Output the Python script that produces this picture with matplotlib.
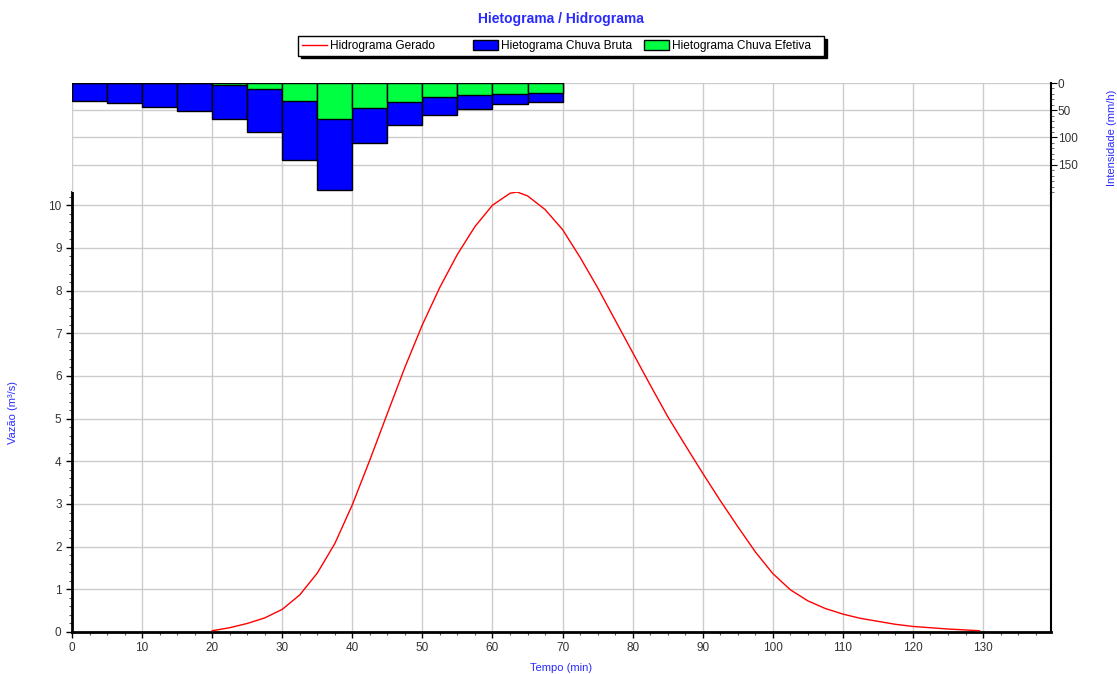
import numpy as np
import matplotlib
matplotlib.use('Agg')
import matplotlib.pyplot as plt
from matplotlib.ticker import MultipleLocator
from matplotlib.patches import Patch
from matplotlib.lines import Line2D

plt.rcParams['font.family'] = ['Liberation Sans', 'DejaVu Sans']

# hietograma (mm/h), blocos de 5 min
bloco_inicio = [0, 5, 10, 15, 20, 25, 30, 35, 40, 45, 50, 55, 60, 65]
chuva_bruta = [32.2, 37.1, 43.8, 51.7, 66.2, 89.3, 141.5, 196.2, 110.0, 77.2, 58.3, 47.4, 38.9, 35.3]
chuva_efetiva = [0, 0, 0, 0, 3.1, 11.6, 32.8, 66.2, 45.6, 34.7, 26.2, 22.5, 19.5, 17.7]

# hidrograma (m3/s)
tempo = [20, 22.5, 25, 27.5, 30, 32.5, 35, 37.5, 40, 42.5, 45, 47.5, 50, 52.5, 55,
         57.5, 60, 62.5, 63.5, 65, 67.5, 70, 72.5, 75, 77.5, 80, 82.5, 85, 87.5,
         90, 92.5, 95, 97.5, 100, 102.5, 105, 107.5, 110, 112.5, 115, 117.5,
         120, 125, 129.5]
vazao = [0.03, 0.1, 0.2, 0.33, 0.53, 0.87, 1.38, 2.07, 2.98, 4.03, 5.12, 6.2, 7.2, 8.08, 8.85,
         9.5, 10.0, 10.28, 10.31, 10.22, 9.9, 9.43, 8.78, 8.07, 7.31, 6.55, 5.79, 5.05, 4.38,
         3.72, 3.08, 2.47, 1.88, 1.37, 0.99, 0.73, 0.55, 0.42, 0.32, 0.25, 0.18,
         0.13, 0.07, 0.03]

azul_texto = '#2a2aff'
cor_tick = '#333333'
cor_grade = '#cccccc'

fig = plt.figure(figsize=(11.17, 6.74), dpi=100)
W, H = 1117, 674
esq, dir_ = 72, 1051
ax = fig.add_axes([esq / W, (H - 632) / H, (dir_ - esq) / W, (632 - 192) / H])
ah = fig.add_axes([esq / W, (H - 192) / H, (dir_ - esq) / W, (192 - 83) / H], sharex=ax)

# hidrograma
ax.plot(tempo, vazao, color='red', lw=1.0, zorder=3)
ax.set_xlim(0, 139.7)
ax.set_ylim(0, 10.31)
ax.xaxis.set_major_locator(MultipleLocator(10))
ax.xaxis.set_minor_locator(MultipleLocator(2.5))
ax.yaxis.set_major_locator(MultipleLocator(1))
ax.yaxis.set_minor_locator(MultipleLocator(0.2))
ax.grid(True, which='major', color=cor_grade, lw=1)
ax.set_axisbelow(True)
ax.spines['top'].set_visible(False)
for s in ['left', 'bottom']:
    ax.spines[s].set_linewidth(2)
ax.spines['right'].set_linewidth(1.5)
ax.tick_params(which='major', length=4, width=1, labelsize=8.5, colors='black', labelcolor=cor_tick)
ax.tick_params(which='minor', length=2, width=0.8, colors='#555555')
ax.tick_params(axis='y', which='both', right=False)
ax.set_xlabel('Tempo (min)', color=azul_texto, fontsize=8)
ax.xaxis.set_label_coords(0.5, -0.07)
ax.set_ylabel('Vazão (m³/s)', color=azul_texto, fontsize=8)
ax.yaxis.set_label_coords(-0.055, 0.5)

# hietograma
ah.bar(bloco_inicio, chuva_bruta, width=5, align='edge', color='#0000ff', edgecolor='black', lw=1, zorder=2)
ah.bar(bloco_inicio, chuva_efetiva, width=5, align='edge', color='#00ff40', edgecolor='black', lw=1, zorder=3)
ah.set_ylim(200, 0)
ah.yaxis.tick_right()
ah.yaxis.set_label_position('right')
ah.yaxis.set_minor_locator(MultipleLocator(10))
ah.set_yticks([0, 50, 100, 150])
ah.grid(True, which='major', color=cor_grade, lw=1)
ah.set_axisbelow(True)
for s in ['top', 'left', 'bottom']:
    ah.spines[s].set_visible(False)
ah.spines['right'].set_linewidth(1.5)
ah.tick_params(axis='x', which='both', bottom=False, labelbottom=False)
ah.tick_params(axis='y', which='major', length=4, labelsize=8.5, labelcolor=cor_tick, pad=1)
ah.tick_params(axis='y', which='minor', length=2, colors='#555555')
ah.set_ylabel('Intensidade (mm/h)', color=azul_texto, fontsize=8)
ah.yaxis.set_label_coords(1.057, 0.5)

fig.text(0.5025, 1 - 19 / H, 'Hietograma / Hidrograma', ha='center', va='center',
         fontsize=10, fontweight='bold', color=azul_texto)

handles = [Line2D([], [], color='red', lw=1),
           Patch(facecolor='#0000ff', edgecolor='black'),
           Patch(facecolor='#00ff40', edgecolor='black')]
labels = ['Hidrograma Gerado        ', 'Hietograma Chuva Bruta', 'Hietograma Chuva Efetiva   ']
leg = fig.legend(handles, labels, loc='center', bbox_to_anchor=(561 / W, 1 - 46 / H), ncol=3,
                 fontsize=8.6, frameon=True, fancybox=False, shadow={'color': 'black', 'alpha': 1},
                 handlelength=2.1, handletextpad=0.25, columnspacing=1.0, borderpad=0.3,
                 borderaxespad=0, handleheight=0.9)
leg.get_frame().set_edgecolor('black')
leg.get_frame().set_linewidth(1)

fig.savefig('out.png', dpi=100)
